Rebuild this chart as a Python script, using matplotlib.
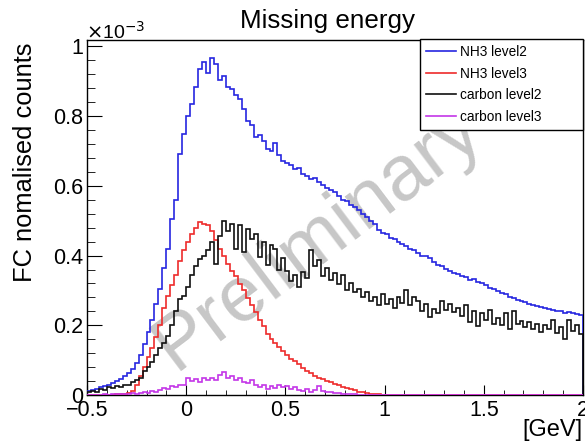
import numpy as np
import matplotlib
matplotlib.use("Agg")
import matplotlib.pyplot as plt
from matplotlib.ticker import MultipleLocator

plt.rcParams["font.family"] = ["Liberation Sans", "DejaVu Sans"]

# histogram binning [GeV]
x_min, x_max, n_bins = -0.5, 2.0, 125

# bin contents in units of 1e-3
nh3_level2 = [
    0.012, 0.015, 0.018, 0.022, 0.026, 0.030, 0.035, 0.040, 0.047, 0.055,
    0.063, 0.075, 0.092, 0.115, 0.145, 0.180, 0.215, 0.260, 0.305, 0.365,
    0.420, 0.505, 0.560, 0.690, 0.750, 0.800, 0.835, 0.885, 0.935, 0.955,
    0.925, 0.968, 0.950, 0.905, 0.915, 0.885, 0.878, 0.862, 0.850, 0.820,
    0.785, 0.775, 0.740, 0.745, 0.728, 0.705, 0.700, 0.722, 0.688, 0.672,
    0.665, 0.660, 0.648, 0.650, 0.635, 0.628, 0.620, 0.622, 0.610, 0.602,
    0.595, 0.588, 0.583, 0.570, 0.560, 0.556, 0.545, 0.538, 0.530, 0.518,
    0.512, 0.500, 0.490, 0.472, 0.466, 0.462, 0.450, 0.448, 0.440, 0.432,
    0.428, 0.418, 0.415, 0.408, 0.400, 0.398, 0.392, 0.382, 0.372, 0.370,
    0.362, 0.356, 0.350, 0.346, 0.342, 0.338, 0.330, 0.332, 0.325, 0.320,
    0.315, 0.308, 0.305, 0.298, 0.292, 0.290, 0.282, 0.278, 0.272, 0.270,
    0.266, 0.262, 0.258, 0.256, 0.252, 0.250, 0.246, 0.244, 0.240, 0.242,
    0.236, 0.238, 0.234, 0.232, 0.230,
]

nh3_level3 = [
    0.0, 0.0, 0.0, 0.0, 0.0, 0.0, 0.001, 0.002, 0.003, 0.004,
    0.006, 0.012, 0.030, 0.055, 0.080, 0.110, 0.135, 0.165, 0.200, 0.250,
    0.285, 0.315, 0.345, 0.385, 0.415, 0.440, 0.462, 0.480, 0.495, 0.490,
    0.488, 0.470, 0.445, 0.420, 0.398, 0.375, 0.355, 0.340, 0.318, 0.300,
    0.278, 0.258, 0.238, 0.215, 0.198, 0.175, 0.162, 0.150, 0.138, 0.125,
    0.115, 0.104, 0.098, 0.090, 0.078, 0.068, 0.062, 0.055, 0.050, 0.045,
    0.040, 0.037, 0.032, 0.028, 0.024, 0.020, 0.016, 0.013, 0.010, 0.008,
    0.006, 0.004, 0.003, 0.002, 0.001, 0.001, 0.0, 0.0, 0.0, 0.0,
    0.0, 0.0, 0.0, 0.0, 0.0, 0.0, 0.0, 0.0, 0.0, 0.0,
    0.0, 0.0, 0.0, 0.0, 0.0, 0.0, 0.0, 0.0, 0.0, 0.0,
    0.0, 0.0, 0.0, 0.0, 0.0, 0.0, 0.0, 0.0, 0.0, 0.0,
    0.0, 0.0, 0.0, 0.0, 0.0, 0.0, 0.0, 0.0, 0.0, 0.0,
    0.0, 0.0, 0.0, 0.0, 0.0,
]

carbon_level2 = [
    0.010, 0.012, 0.008, 0.018, 0.015, 0.022, 0.020, 0.025, 0.022, 0.030,
    0.028, 0.036, 0.042, 0.050, 0.068, 0.080, 0.095, 0.115, 0.135, 0.150,
    0.170, 0.200, 0.240, 0.275, 0.285, 0.310, 0.345, 0.370, 0.390, 0.400,
    0.415, 0.440, 0.375, 0.455, 0.498, 0.470, 0.492, 0.420, 0.488, 0.410,
    0.475, 0.448, 0.462, 0.395, 0.440, 0.372, 0.430, 0.418, 0.360, 0.392,
    0.355, 0.328, 0.345, 0.310, 0.352, 0.335, 0.415, 0.370, 0.388, 0.340,
    0.365, 0.330, 0.350, 0.318, 0.345, 0.300, 0.322, 0.295, 0.305, 0.280,
    0.295, 0.270, 0.282, 0.258, 0.290, 0.262, 0.275, 0.250, 0.280, 0.265,
    0.300, 0.258, 0.282, 0.270, 0.240, 0.262, 0.225, 0.248, 0.236, 0.270,
    0.245, 0.262, 0.238, 0.250, 0.228, 0.258, 0.210, 0.240, 0.198, 0.235,
    0.215, 0.245, 0.205, 0.222, 0.200, 0.235, 0.190, 0.242, 0.205, 0.212,
    0.195, 0.210, 0.190, 0.205, 0.180, 0.200, 0.188, 0.215, 0.178, 0.195,
    0.160, 0.215, 0.185, 0.200, 0.175,
]

carbon_level3 = [
    0.0, 0.0, 0.001, 0.0, 0.002, 0.001, 0.002, 0.003, 0.002, 0.004,
    0.003, 0.005, 0.004, 0.006, 0.008, 0.007, 0.012, 0.010, 0.015, 0.020,
    0.018, 0.025, 0.022, 0.030, 0.028, 0.048, 0.040, 0.045, 0.038, 0.048,
    0.044, 0.050, 0.042, 0.058, 0.065, 0.050, 0.055, 0.043, 0.048, 0.038,
    0.035, 0.042, 0.030, 0.022, 0.028, 0.018, 0.025, 0.020, 0.030, 0.022,
    0.025, 0.018, 0.022, 0.015, 0.012, 0.016, 0.010, 0.014, 0.025, 0.012,
    0.008, 0.010, 0.005, 0.006, 0.004, 0.003, 0.002, 0.003, 0.001, 0.001,
    0.0, 0.0, 0.0, 0.0, 0.0, 0.0, 0.0, 0.0, 0.0, 0.0,
    0.0, 0.0, 0.0, 0.0, 0.0, 0.0, 0.0, 0.0, 0.0, 0.0,
    0.0, 0.0, 0.0, 0.0, 0.0, 0.0, 0.0, 0.0, 0.0, 0.0,
    0.0, 0.0, 0.0, 0.0, 0.0, 0.0, 0.0, 0.0, 0.0, 0.0,
    0.0, 0.0, 0.0, 0.0, 0.0, 0.0, 0.0, 0.0, 0.0, 0.0,
    0.0, 0.0, 0.0, 0.0, 0.0,
]

labels = ["NH3 level2", "NH3 level3", "carbon level2", "carbon level3"]
colors = ["#2626e0", "#ee2b2b", "#111111", "#c436e8"]

x_ticks = [-0.5, 0.0, 0.5, 1.0, 1.5, 2.0]
x_tick_labels = ["\u22120.5", "0", "0.5", "1", "1.5", "2"]
y_ticks = [0.0, 0.2, 0.4, 0.6, 0.8, 1.0]
y_tick_labels = ["0", "0.2", "0.4", "0.6", "0.8", "1"]

W, H = 585, 444
fig = plt.figure(figsize=(W / 100, H / 100), dpi=100)
ax = fig.add_axes([87 / W, 1 - 395 / H, (583 - 87) / W, (395 - 40) / H])

edges = np.linspace(x_min, x_max, n_bins + 1)
series = [nh3_level2, nh3_level3, carbon_level2, carbon_level3]
for vals, lab, col in zip(series, labels, colors):
    ax.stairs(vals, edges, color=col, linewidth=1.2, label=lab, zorder=3)

ax.set_xlim(x_min, x_max)
ax.set_ylim(0, 1.0185)

ax.set_xticks(x_ticks, x_tick_labels)
ax.set_yticks(y_ticks, y_tick_labels)
ax.xaxis.set_minor_locator(MultipleLocator(0.1))
ax.yaxis.set_minor_locator(MultipleLocator(0.04))
ax.tick_params(axis="both", which="both", direction="in", labelsize=15.5)
ax.tick_params(axis="y", which="major", length=10.8, pad=3)
ax.tick_params(axis="y", which="minor", length=5.8)
ax.tick_params(axis="x", which="major", length=7.2, pad=3.5)
ax.tick_params(axis="x", which="minor", length=3.6)
for sp in ax.spines.values():
    sp.set_linewidth(1.0)

# watermark, behind the histograms and the legend
ax.text(318 / W, 1 - 238 / H, "Preliminary", transform=fig.transFigure,
        fontsize=56, color="0.78", rotation=37, ha="center", va="center",
        zorder=1, clip_on=False)

fig.text(327 / W, 1 - 28 / H, "Missing energy", fontsize=18.7,
         ha="center", va="baseline")
fig.text(25 / W, 1 - 43 / H, "FC nomalised counts", fontsize=18.4,
         rotation=90, ha="center", va="top")
fig.text(583 / W, 1 - 430 / H, "[GeV]", fontsize=17, ha="right", va="center")
fig.text(86 / W, 1 - 32 / H, r"$\times$10$^{-3}$", fontsize=14,
         ha="left", va="center")

leg = ax.legend(loc="upper left",
                bbox_to_anchor=(420 / W, 1 - 132 / H, 163 / W, 93 / H),
                bbox_transform=fig.transFigure, mode="expand",
                borderaxespad=0, fontsize=9.8, frameon=True, fancybox=False,
                edgecolor="black", framealpha=1, handlelength=2.2,
                handletextpad=0.3, labelspacing=0.55, borderpad=0.45)
leg.get_frame().set_linewidth(1.0)
leg.set_zorder(5)

fig.savefig("out.png", dpi=100)
